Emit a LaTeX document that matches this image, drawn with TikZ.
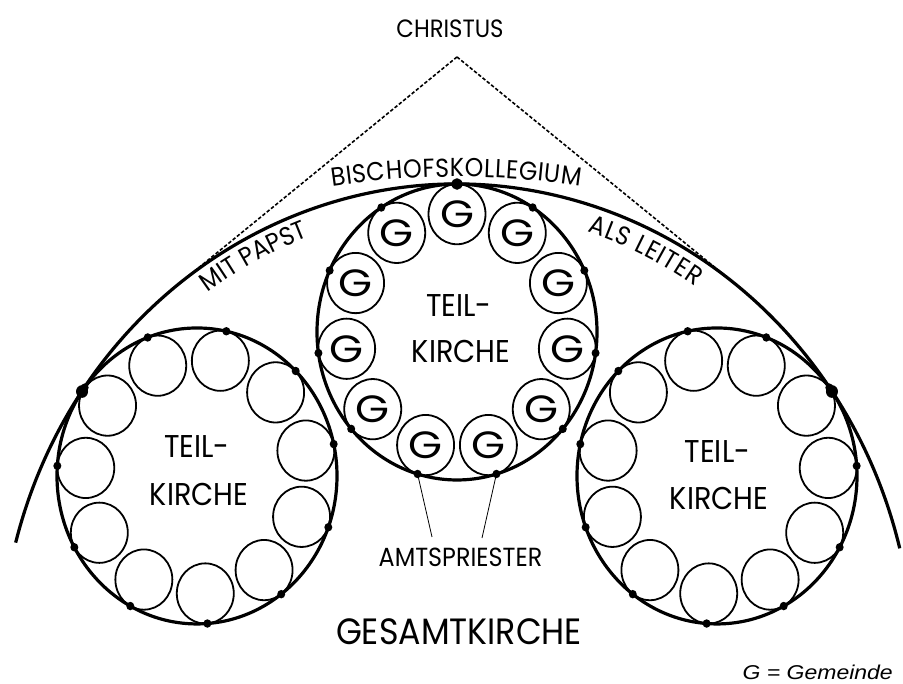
\documentclass[tikz,border=0pt]{standalone}
\usepackage{fontspec}
\setmainfont{Poppins}[FakeStretch=0.91]
\newfontfamily\gfont{Poppins}[FakeStretch=1.15]
\newfontfamily\legendfont{Liberation Sans}[FakeStretch=1.15]
\usetikzlibrary{calc,decorations.text}
\begin{document}
\begin{tikzpicture}[x=1pt,y=1.057pt,
  big/.style={line width=3.2pt},
  small/.style={line width=1.8pt},
  dotline/.style={line width=1.6pt,dash pattern=on 3.5pt off 2pt},
  thinline/.style={line width=0.8pt},
  lbl/.style={font=\fontsize{25}{26}\selectfont,inner sep=0pt},
  tk/.style={font=\fontsize{31.5}{32}\selectfont,inner sep=0pt},
  gl/.style={font=\gfont\fontsize{38}{38}\selectfont,inner sep=0pt},
  curved/.style={decorate,decoration={text along path,text align=fit to path,
    text={|\fontsize{26}{26}\selectfont|#1}}},
]
\useasboundingbox (0,0) rectangle (903,647.1);

\coordinate (B) at (457,16.3);
\coordinate (C0) at (457,333);
\coordinate (CL) at (197,196.8);
\coordinate (CR) at (717,196.8);
\coordinate (A) at (457,593.2);
\coordinate (T1) at ($(B)+(127.67:456.7)$);
\coordinate (T2) at ($(B)+(52.33:456.7)$);

% large arc of the Gesamtkirche
\draw[big] (B) ++(165.1:456.7) arc[start angle=165.1,end angle=14.2,radius=456.7];

% dotted lines from Christus
\draw[dotline] (A) -- (T1);
\draw[dotline] (A) -- (T2);

% three Teilkirchen
\foreach \c/\off/\g in {C0/90/1, CL/77.9/0, CR/102.1/0} {
  \draw[big] (\c) circle[radius=140];
  \foreach \k in {0,...,10} {
    \pgfmathsetmacro\a{\off+\k*360/11}
    \draw[small] (\c) ++(\a:111.5) circle[radius=28.5];
    \fill (\c) ++(\a:140) circle[radius=4];
    \ifnum\g=1
      \node[gl] (g\k) at ($(\c)+(\a:111.5)$) {G};
    \fi
  }
}

% larger dots where the circles meet the arc
\fill (C0) ++(90:140) circle[radius=5.5];
\fill (CL) ++(145.2:140) circle[radius=6];
\fill (CR) ++(34.8:140) circle[radius=6];

% Amtspriester lines
\coordinate (P1) at ($(C0)+(-106.36:140)$);
\coordinate (P2) at ($(C0)+(-73.64:140)$);
\coordinate (Q1) at (432,139.1);
\coordinate (Q2) at (482,138.1);
\draw[thinline] (P1) -- (Q1);
\draw[thinline] (P2) -- (Q2);

% texts
\node[lbl,anchor=base] (christus) at (450,611.8) {CHRISTUS};
\node[tk,anchor=base] (t0) at (459,347.2) {TEIL-};
\node[tk,anchor=base] (k0) at (461,303.7) {KIRCHE};
\node[tk,anchor=base] (t1) at (197,213.8) {TEIL-};
\node[tk,anchor=base] (k1) at (199,169.3) {KIRCHE};
\node[tk,anchor=base] (t2) at (717.5,209.1) {TEIL-};
\node[tk,anchor=base] (k2) at (719,164.6) {KIRCHE};
\node[font=\fontsize{26.2}{27}\selectfont,inner sep=0pt,anchor=base] (amts) at (460.5,111.6) {AMTSPRIESTER};
\node[font=\fontsize{36.6}{37}\selectfont,inner sep=0pt,anchor=base] (gesamt) at (459,36.9) {GESAMTKIRCHE};
\node[font=\legendfont\itshape\fontsize{20}{20}\selectfont,inner sep=0pt,anchor=base east] (legend) at (893,3.8) {G = Gemeinde};

% curved texts
\path[curved=BISCHOFSKOLLEGIUM]
  (457,-429) ++(97.9:908.7) arc[start angle=97.9,end angle=82.2,radius=908.7];
\path[curved={MIT PAPST}]
  (B) ++(125.1:433) arc[start angle=125.1,end angle=110.5,radius=433];
\path[curved={ALS LEITER}]
  (B) ++(72.4:431.5) arc[start angle=72.4,end angle=56.5,radius=431.5];
\end{tikzpicture}
\end{document}
